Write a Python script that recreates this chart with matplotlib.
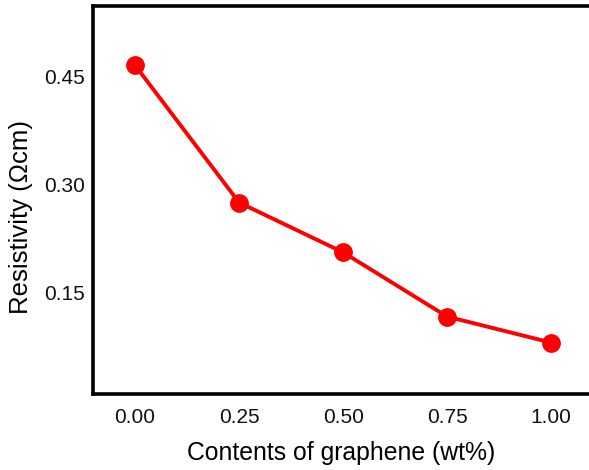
import matplotlib
import numpy as np
import matplotlib.pyplot as plt
matplotlib.use('Agg')

plt.rcParams['font.family'] = ['Liberation Sans', 'DejaVu Sans']

# graphene content (wt%) and measured resistivity (ohm cm)
contents = [0.00, 0.25, 0.50, 0.75, 1.00]
resistivity = [0.465, 0.275, 0.206, 0.117, 0.081]

xticks = [0.00, 0.25, 0.50, 0.75, 1.00]
yticks = [0.15, 0.30, 0.45]

fig = plt.figure(figsize=(5.89, 4.70), dpi=100)
ax = fig.add_axes([0.158, 0.162, 0.842, 0.825])

ax.plot(contents, resistivity, color='#ff0000', lw=2.8,
        marker='o', markersize=12.5, markerfacecolor='#ff0000', markeredgecolor='#ff0000')

ax.set_xlim(-0.101, 1.091)
ax.set_ylim(0.010, 0.547)
ax.set_xticks(xticks)
ax.set_xticklabels(['%.2f' % v for v in xticks])
ax.set_yticks(yticks)
ax.set_yticklabels(['%.2f' % v for v in yticks])
ax.tick_params(length=0, labelsize=15, colors='#111111')
ax.tick_params(axis='y', pad=6)
ax.tick_params(axis='x', pad=10)

for side in ['left', 'bottom', 'top']:
    ax.spines[side].set_linewidth(2.6)
ax.spines['right'].set_visible(False)

ax.set_xlabel('Contents of graphene (wt%)', fontsize=17.8, labelpad=10)
ax.set_ylabel('Resistivity (\u03a9cm)', fontsize=18.5)
ax.yaxis.set_label_coords(-0.122, 0.455)

fig.savefig('out.png', dpi=100)
